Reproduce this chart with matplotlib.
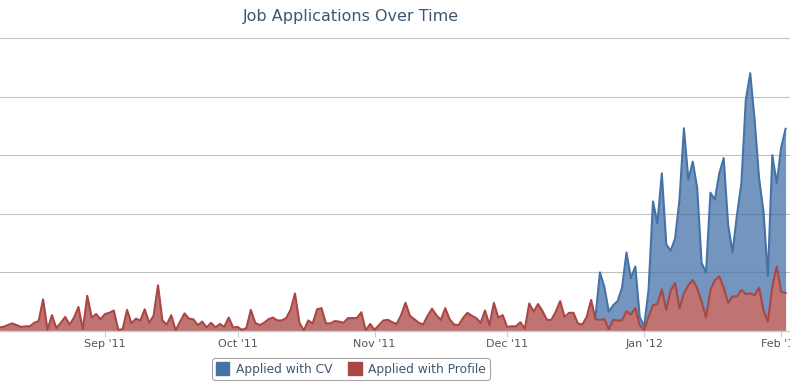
import numpy as np
import pandas as pd
import matplotlib
matplotlib.use("Agg")
import matplotlib.pyplot as plt
import matplotlib.dates as mdates
from matplotlib.patches import Patch

# daily counts
profile_start = "2011-08-08"
applied_profile = [
    # Aug 8 - Aug 31
    0.6, 0.7, 1.0, 1.3, 1.0, 0.7, 0.8, 0.8, 1.4, 1.7, 5.4, 0.2, 2.7, 0.5, 1.4, 2.4,
    1.1, 2.3, 4.1, 0.3, 6.0, 2.3, 2.9, 2.0,
    # Sep
    2.9, 3.1, 3.5, 0.2, 0.3, 3.6, 1.3, 2.1, 1.8, 3.7, 1.4, 2.6, 7.8, 1.8, 1.1, 2.7,
    0.1, 1.6, 3.0, 2.1, 2.0, 1.0, 1.6, 0.6, 1.4, 0.6, 1.2, 0.7, 2.3, 0.6,
    # Oct
    0.7, 0.2, 0.5, 3.6, 1.4, 1.0, 1.4, 2.0, 2.3, 1.8, 1.8, 2.2, 3.6, 6.4, 1.4, 0.1,
    1.8, 1.3, 3.7, 3.9, 1.3, 1.3, 1.7, 1.6, 1.4, 2.2, 2.2, 2.2, 3.2, 0.1, 1.2,
    # Nov
    0.2, 1.0, 1.8, 1.9, 1.5, 1.2, 2.7, 4.8, 2.6, 2.0, 1.4, 1.1, 2.6, 3.8, 2.7, 1.9,
    3.9, 2.0, 1.1, 1.0, 2.2, 3.1, 2.6, 2.2, 1.4, 3.5, 1.0, 4.8, 2.3, 2.7,
    # Dec
    0.7, 0.8, 0.8, 1.5, 0.4, 4.7, 3.3, 4.6, 3.4, 1.9, 1.9, 3.3, 5.1, 2.4, 3.1, 3.1,
    1.3, 1.1, 2.4, 5.3, 2.0, 1.9, 2.0, 0.3, 1.9, 1.8, 1.8, 3.4, 2.8, 3.9, 1.0,
    # Jan
    0.2, 2.4, 4.4, 4.6, 7.1, 3.6, 6.9, 8.2, 3.9, 6.4, 7.8, 8.7, 7.3, 5.0, 2.3, 7.0,
    8.7, 9.3, 7.4, 4.8, 5.9, 5.9, 7.0, 6.3, 6.4, 6.1, 7.4, 3.6, 1.6, 7.6, 11.0,
    # Feb
    6.7, 6.5,
]

# top of the stacked CV area (CV + Profile)
cv_start = "2011-12-21"
applied_cv_top = [
    2.5, 10.0, 7.5, 3.3, 4.4, 5.1, 7.4, 13.4, 9.0, 11.0, 2.4,
    0.8, 7.0, 22.1, 18.4, 26.9, 14.8, 13.7, 15.8, 22.4, 34.6, 25.8, 28.9, 24.4, 11.6,
    10.0, 23.6, 22.4, 26.9, 29.5, 18.1, 13.4, 19.8, 25.2, 39.4, 44.0, 36.0, 26.1,
    20.4, 9.4, 30.0, 25.2,
    31.3, 34.5,
]

month_ticks = ["2011-09-01", "2011-10-01", "2011-11-01", "2011-12-01", "2012-01-01", "2012-02-01"]
month_labels = ["Sep '11", "Oct '11", "Nov '11", "Dec '11", "Jan '12", "Feb '12"]

blue = "#4572A7"
red = "#AA4643"

d_prof = mdates.date2num(pd.date_range(profile_start, periods=len(applied_profile)))
d_cv = mdates.date2num(pd.date_range(cv_start, periods=len(applied_cv_top)))
prof = np.array(applied_profile)
cv = np.array(applied_cv_top)
prof_under_cv = prof[len(prof) - len(cv):]

fig = plt.figure(figsize=(7.9, 3.86), dpi=100)
ax = fig.add_axes([0, 55 / 386, 1, 294 / 386])

ax.fill_between(d_cv, prof_under_cv, cv, color=blue, alpha=0.75, lw=0, zorder=2)
ax.plot(d_cv, cv, color=blue, lw=1.5, zorder=3)
ax.fill_between(d_prof, 0, prof, color=red, alpha=0.75, lw=0, zorder=2)
ax.plot(d_prof, prof, color=red, lw=1.5, zorder=4)

ax.set_xlim(mdates.date2num(pd.Timestamp(profile_start)) + 0.25,
            mdates.date2num(pd.Timestamp("2012-02-03")))
ax.set_ylim(0, 50.17)

ax.set_yticks([10, 20, 30, 40, 50])
ax.yaxis.grid(True, color="#C0C0C0", lw=0.8)
ax.set_axisbelow(True)
ax.tick_params(axis="y", left=False, labelleft=False)

ax.set_xticks(mdates.date2num(pd.to_datetime(month_ticks)))
ax.set_xticklabels(month_labels)
ax.tick_params(axis="x", direction="out", length=4, width=0.8, color="#C0D0E0",
               labelsize=8, labelcolor="#555555", pad=2)

for s in ["top", "left", "right"]:
    ax.spines[s].set_visible(False)
ax.spines["bottom"].set_color("#C0D0E0")
ax.spines["bottom"].set_linewidth(1)

fig.text(351 / 790, 1 - 17 / 386, "Job Applications Over Time", ha="center", va="center",
         fontsize=11.5, color="#3E576F")

handles = [Patch(facecolor=blue, edgecolor=blue), Patch(facecolor=red, edgecolor=red)]
leg = fig.legend(handles, ["Applied with CV", "Applied with Profile"], loc="center",
                 bbox_to_anchor=(351 / 790, 1 - 369 / 386), ncol=2, fontsize=8.8,
                 frameon=True, fancybox=True, edgecolor="#909090", handlelength=1.1,
                 handleheight=1.3, handletextpad=0.55, columnspacing=1.3,
                 borderpad=0.3, borderaxespad=0)
leg.get_frame().set_linewidth(0.8)
for t in leg.get_texts():
    t.set_color("#3E576F")

fig.savefig("out.png", dpi=100)
